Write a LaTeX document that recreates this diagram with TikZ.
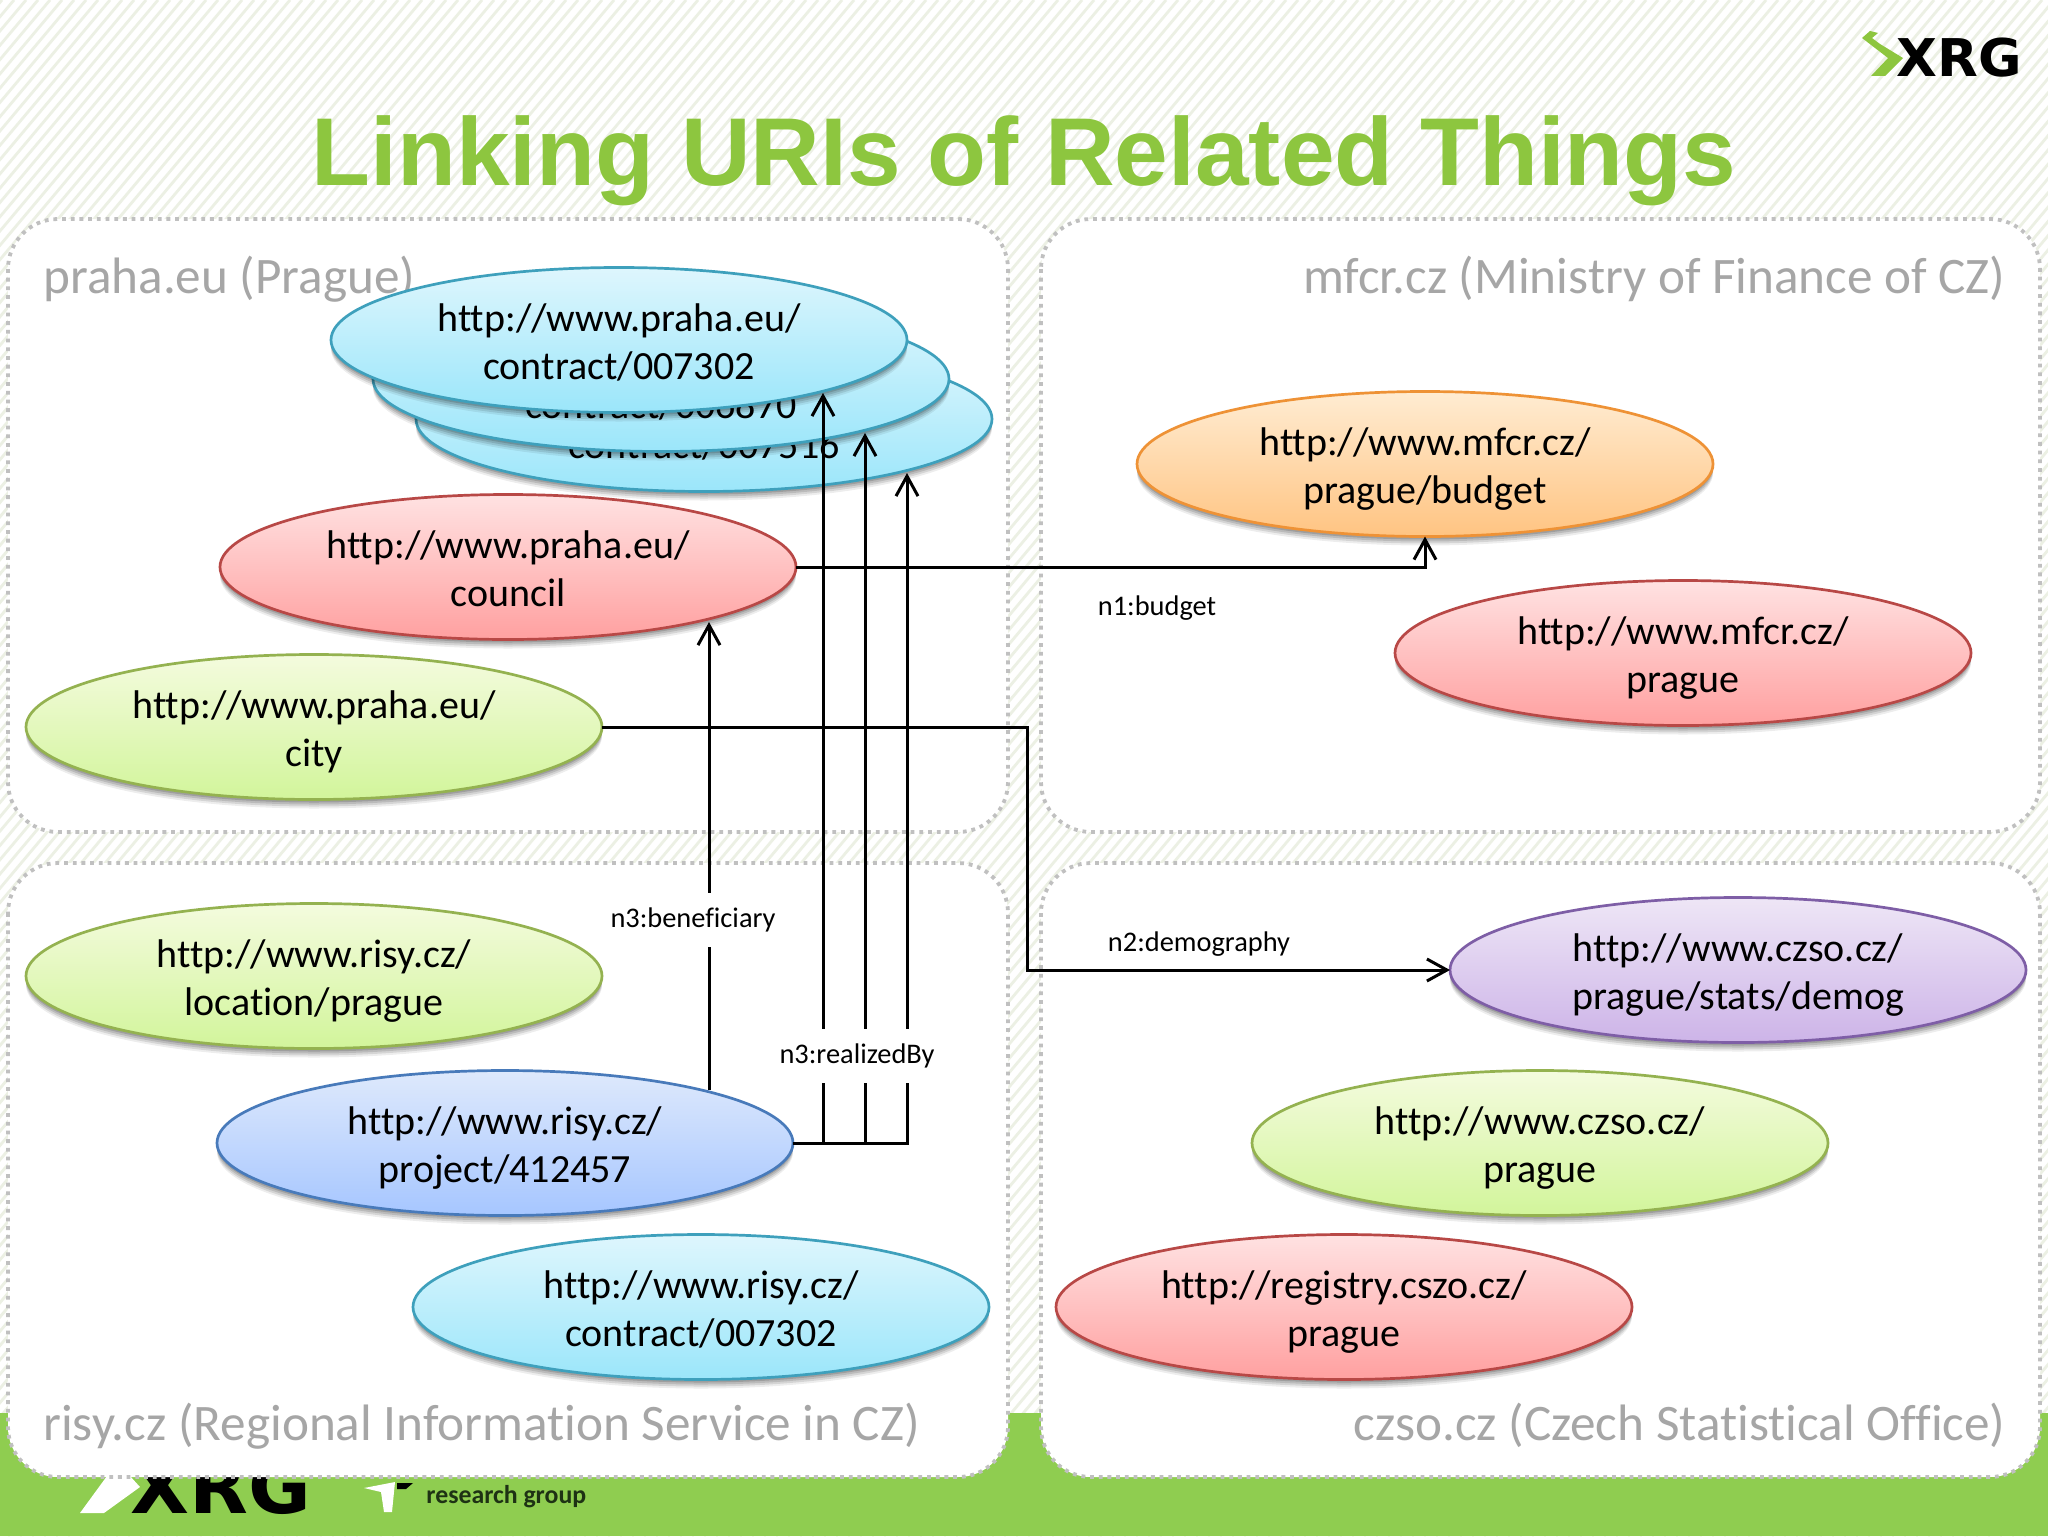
\documentclass[tikz,border=0pt]{standalone}
\usepackage{fontspec}
\setmainfont{Carlito}[Ligatures=NoCommon]
\newfontfamily\titlefont{Liberation Sans}
\newfontfamily\logofont{DejaVu Sans}
\usepackage{tikz}
\usetikzlibrary{arrows.meta,shapes.geometric,shadows,calc,positioning}
\definecolor{xrgGreen}{RGB}{141,198,63}
\definecolor{bandGreen}{RGB}{143,205,80}
\definecolor{hatchLine}{RGB}{236,240,228}
\definecolor{panelDots}{RGB}{192,192,192}
\definecolor{panelText}{RGB}{166,166,166}
% two lines of a URI, a little below the middle of their ellipse
\newcommand{\uriLines}[2]{\rule{0pt}{20pt}#1\\#2\rule[-5pt]{0pt}{5pt}}
\tikzstyle{softShadow}=[drop shadow={shadow xshift=0pt, shadow yshift=-4.5pt, opacity=.07, fill=black},
                        drop shadow={shadow xshift=0pt, shadow yshift=-3.5pt, opacity=.10, fill=black},
                        drop shadow={shadow xshift=0pt, shadow yshift=-2.5pt, opacity=.12, fill=black},
                        drop shadow={shadow xshift=0pt, shadow yshift=-1.5pt, opacity=.15, fill=black}]
\tikzstyle{uri}   =[ellipse, draw, line width=1.35pt, inner sep=0pt,
                    outer sep=0pt, minimum width=288pt, minimum height=72.5pt,
                    align=center, font=\fontsize{20}{24}\selectfont,
                    softShadow]
\tikzstyle{cyanUri}  =[uri, draw={rgb,255:red,62;green,160;blue,188},
                       top color={rgb,255:red,222;green,246;blue,253},
                       bottom color={rgb,255:red,155;green,230;blue,250}]
\tikzstyle{redUri}   =[uri, draw={rgb,255:red,184;green,72;blue,70},
                       top color={rgb,255:red,255;green,226;blue,226},
                       bottom color={rgb,255:red,255;green,160;blue,160}]
\tikzstyle{greenUri} =[uri, draw={rgb,255:red,148;green,178;blue,80},
                       top color={rgb,255:red,244;green,251;blue,222},
                       bottom color={rgb,255:red,210;green,245;blue,155}]
\tikzstyle{orangeUri}=[uri, draw={rgb,255:red,238;green,146;blue,54},
                       top color={rgb,255:red,255;green,236;blue,210},
                       bottom color={rgb,255:red,255;green,196;blue,130}]
\tikzstyle{blueUri}  =[uri, draw={rgb,255:red,72;green,122;blue,186},
                       top color={rgb,255:red,222;green,233;blue,252},
                       bottom color={rgb,255:red,166;green,198;blue,255}]
\tikzstyle{violetUri}=[uri, draw={rgb,255:red,126;green,94;blue,166},
                       top color={rgb,255:red,238;green,230;blue,246},
                       bottom color={rgb,255:red,205;green,180;blue,232}]
\tikzstyle{panel} =[draw=panelDots, fill=white, line width=1.9pt,
                    rounded corners=25pt, dash pattern=on 1.9pt off 2.45pt]
\tikzstyle{siteName}=[text=panelText, inner sep=0pt,
                    font=\fontsize{25.6}{30}\selectfont]
\tikzstyle{link}  =[-{Straight Barb[length=10pt,width=11pt,line width=1.5pt]},
                    line width=1.5pt, black]
\tikzstyle{relation}=[fill=white, inner sep=0pt, minimum height=27pt,
                      font=\fontsize{14.2}{17}\selectfont]
\tikzstyle{logoText}=[inner sep=0pt, anchor=base east, transform shape,
                      font=\logofont\bfseries\fontsize{26}{26}\selectfont]

\begin{document}
\begin{tikzpicture}[x=0.5pt,y=-0.5pt]
\useasboundingbox (0,0) rectangle (2048,1536);
%%%%%%%%%%%%%%%%%%%%%%%%%%%%%%%%%%%%%%%%%%%%%%%%
%%%%%%%%%%         Slide ground       %%%%%%%%%%
%%%%%%%%%%%%%%%%%%%%%%%%%%%%%%%%%%%%%%%%%%%%%%%%
\fill[white] (0,0) rectangle (2048,1536);
\foreach \i in {-1540,-1528,...,2040}
	\draw[hatchLine, line width=1.4pt] (\i,1536) -- ++(1290,-1536);
\fill[bandGreen] (0,1413) rectangle (2048,1536);

% logo in the band, its top goes under the panels
\node (footRG) [logoText, xscale=1.47, yscale=1.44, text=black] at (312,1513) {XRG};
\fill[white] (80,1513) -- (104,1513) -- (140,1487) -- (130,1476) -- (107,1476) -- cycle;
\fill[white] (364,1488) -- (395,1482) -- (392,1512) -- (384,1512) -- (381,1492) -- cycle;
\fill[black] (397,1483) -- (413,1483) -- (406,1489) -- (397,1489) -- cycle;
\node (footText) [anchor=west, inner sep=0pt, text={rgb,255:red,30;green,50;blue,20},
	font=\bfseries\fontsize{12.9}{15}\selectfont] at (426,1497) {research group};

\node (title) [text=xrgGreen, inner sep=0pt, anchor=base,
	font=\titlefont\bfseries\fontsize{48.2}{50}\selectfont] at (1024,185) {Linking URIs of Related Things};

% logo in the corner
\node (topRG) [logoText, xscale=1.02, text=black] at (2022,76) {XRG};
\fill[xrgGreen] (1862,38) -- (1870,31) -- (1878,33) -- (1872,38) -- (1880,44) -- (1903,58)
	-- (1885,76) -- (1871,76) -- (1888,58) -- cycle;

%%%%%%%%%%%%%%%%%%%%%%%%%%%%%%%%%%%%%%%%%%%%%%%%
%%%%%%%%%%           Panels           %%%%%%%%%%
%%%%%%%%%%%%%%%%%%%%%%%%%%%%%%%%%%%%%%%%%%%%%%%%
\draw[panel] (8,219) rectangle (1008,832);
\draw[panel] (1041,219) rectangle (2040,832);
\draw[panel] (8,863) rectangle (1008,1477);
\draw[panel] (1041,863) rectangle (2040,1477);

\node (praha) [siteName, anchor=west] at (43,279){praha.eu (Prague)};
\node (mfcr) [siteName, anchor=east] at (2006,279){mfcr.cz (Ministry of Finance of CZ)};
\node (risy) [siteName, anchor=west] at (43,1426){risy.cz (Regional Information Service in CZ)};
\node (czso) [siteName, anchor=east] at (2006,1425){czso.cz (Czech Statistical Office)};

%%%%%%%%%%%%%%%%%%%%%%%%%%%%%%%%%%%%%%%%%%%%%%%%
%%%%%%%%%%            URIs            %%%%%%%%%%
%%%%%%%%%%%%%%%%%%%%%%%%%%%%%%%%%%%%%%%%%%%%%%%%
\node (contractC) [cyanUri] at (704,419){\uriLines{http://www.praha.eu/}{contract/007516}};
\node (contractB) [cyanUri] at (661,379){\uriLines{http://www.praha.eu/}{contract/006870}};
\node (contractA) [cyanUri] at (619,340){\uriLines{http://www.praha.eu/}{contract/007302}};
\node (council) [redUri] at (508,567){\uriLines{http://www.praha.eu/}{council}};
\node (city) [greenUri] at (314,727){\uriLines{http://www.praha.eu/}{city}};

\node (budget) [orangeUri] at (1425,464){\uriLines{http://www.mfcr.cz/}{prague/budget}};
\node (mfcrPrague) [redUri] at (1683,653){\uriLines{http://www.mfcr.cz/}{prague}};

\node (location) [greenUri] at (314,976){\uriLines{http://www.risy.cz/}{location/prague}};
\node (project) [blueUri] at (505,1143){\uriLines{http://www.risy.cz/}{project/412457}};
\node (risyContract) [cyanUri] at (701,1307){\uriLines{http://www.risy.cz/}{contract/007302}};

\node (demog) [violetUri] at (1738,970){\uriLines{http://www.czso.cz/}{prague/stats/demog}};
\node (czsoPrague) [greenUri] at (1540,1143){\uriLines{http://www.czso.cz/}{prague}};
\node (registry) [redUri] at (1344,1307){\uriLines{http://registry.cszo.cz/}{prague}};

%%%%%%%%%%%%%%%%%%%%%%%%%%%%%%%%%%%%%%%%%%%%%%%%
%%%%%%%%%%           Links            %%%%%%%%%%
%%%%%%%%%%%%%%%%%%%%%%%%%%%%%%%%%%%%%%%%%%%%%%%%
\coordinate (bend) at (1027,850);
\coordinate (tipCouncil) at (709,622);
\coordinate (footCouncil) at (709,1090);
\coordinate (tipA) at (823,393);
\coordinate (tipB) at (865,433);
\coordinate (tipC) at (907,473);

\draw[link] (council.east) -| (budget.south);
\draw[link] (city.east) -| (bend) |- (demog.west);
\draw[link] (footCouncil) -- (tipCouncil);
\foreach \i in {A,B,C}
	\draw[link] (project.east) -| (tip\i);

\node (beneficiary) [relation] at (693,920){n3:beneficiary};
\node (realizedBy) [relation] at (857,1056){n3:realizedBy};
\node (n1) [inner sep=0pt, font=\fontsize{14.2}{17}\selectfont] at (1157,608){n1:budget};
\node (n2) [inner sep=0pt, font=\fontsize{14.2}{17}\selectfont] at (1199,944){n2:demography};

\end{tikzpicture}
\end{document}
